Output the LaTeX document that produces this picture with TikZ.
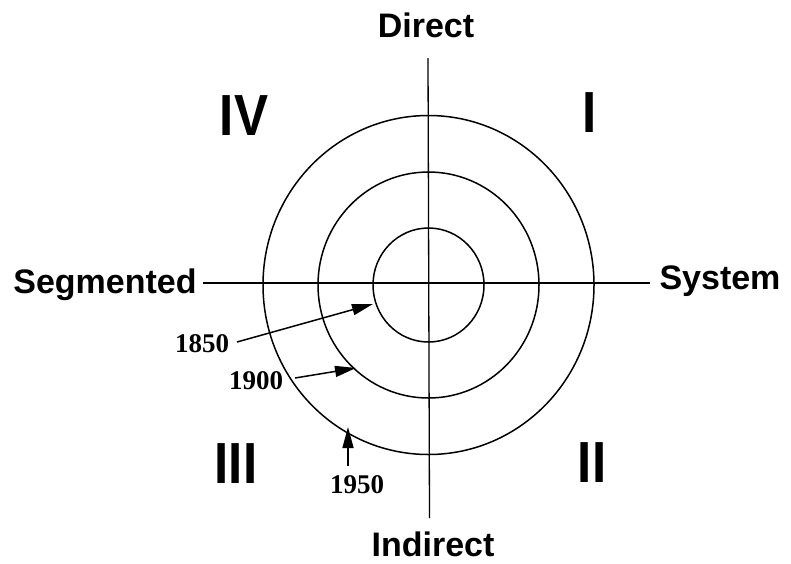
\documentclass[tikz,border=0pt]{standalone}
\usepackage{fontspec}
\setmainfont{Liberation Serif}
\newfontfamily\hel{Liberation Sans}
\usetikzlibrary{arrows.meta}
\tikzset{
  axislabel/.style={font=\hel\bfseries\fontsize{34}{36}\selectfont, inner sep=0pt, anchor=base},
  quadlabel/.style={font=\hel\bfseries\fontsize{58}{60}\selectfont, inner sep=0pt, anchor=base, xscale=0.88},
  yearlabel/.style={font=\bfseries\fontsize{27}{29}\selectfont, inner sep=0pt, anchor=base},
  ring/.style={line width=1.5pt},
  axisline/.style={line width=1.3pt},
  arr/.style={line width=1.5pt, -{Triangle[length=21pt,width=11pt]}}
}
\begin{document}
\begin{tikzpicture}[x=1pt,y=-1pt]
\useasboundingbox (0,0) rectangle (791,563);
% center
\coordinate (c) at (428.5,285);
% axes
\coordinate (top) at (428,58);
\coordinate (bot) at (429.5,518);
\coordinate (lft) at (203,283);
\coordinate (rgt) at (650,283);
\draw[axisline] (top) -- (bot);
\draw[axisline] (lft) -- (rgt);
% rings
\draw[ring] (c) ellipse [x radius=55.5, y radius=57];
\draw[ring] (c) ellipse [x radius=110.5, y radius=113];
\draw[ring] (c) ellipse [x radius=165.5, y radius=169.5];
% axis labels
\node[axislabel] (direct) at (426,37) {Direct};
\node[axislabel] (indirect) at (433,556) {Indirect};
\node[axislabel] (segmented) at (105,293) {Segmented};
\node[axislabel] (system) at (720,289) {System};
% quadrant labels
\node[quadlabel] (q1) at (590,132) {I};
\node[quadlabel] (q2) at (592,482) {II};
\node[quadlabel] (q3) at (236,483) {III};
\node[quadlabel] (q4) at (244,135) {IV};
% years
\node[yearlabel] (y1850) at (202,352) {1850};
\node[yearlabel] (y1900) at (256,389) {1900};
\node[yearlabel] (y1950) at (357,493) {1950};
% arrows
\coordinate (s1850) at (237,342);
\coordinate (t1850) at (373,304);
\coordinate (s1900) at (295,378);
\coordinate (t1900) at (356,368);
\coordinate (s1950) at (348,466);
\coordinate (t1950) at (348,427);
\draw[arr] (s1850) -- (t1850);
\draw[arr] (s1900) -- (t1900);
\draw[arr] (s1950) -- (t1950);
\end{tikzpicture}
\end{document}
